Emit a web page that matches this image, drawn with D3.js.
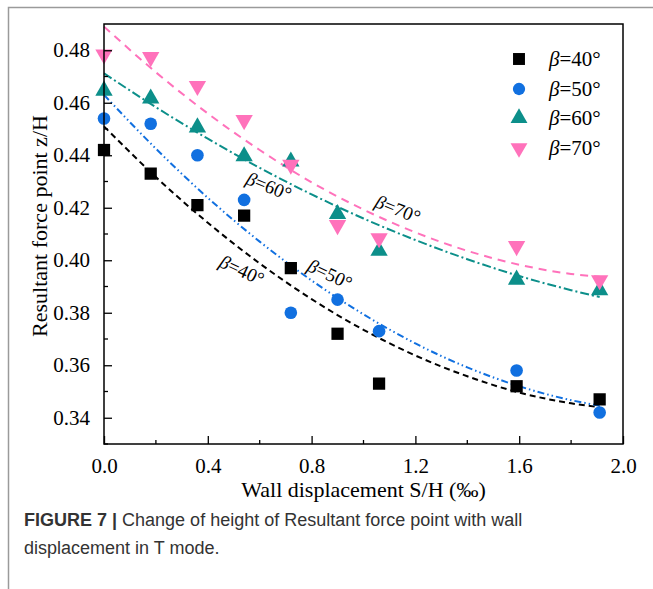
<!DOCTYPE html>
<html><head><meta charset="utf-8">
<script src="https://cdn.jsdelivr.net/npm/d3@7"></script>
<style>body{margin:0;background:#fff}svg{display:block}</style>
</head><body>
<svg id="c" width="653" height="589"></svg>
<script>
// ---- data ----
const xValues = [0, 0.18, 0.36, 0.54, 0.72, 0.90, 1.06, 1.59, 1.91];
const beta40 = [0.442, 0.433, 0.421, 0.417, 0.397, 0.372, 0.353, 0.352, 0.347];
const beta50 = [0.454, 0.452, 0.440, 0.423, 0.380, 0.385, 0.373, 0.358, 0.342];
const beta60 = [0.465, 0.462, 0.451, 0.440, 0.438, 0.418, 0.404, 0.393, 0.389];
const beta70 = [0.478, 0.477, 0.466, 0.453, 0.436, 0.413, 0.408, 0.405, 0.392];
// fitted curves
const fitX = [0, 0.2, 0.4, 0.6, 0.8, 1.0, 1.2, 1.4, 1.6, 1.8, 1.91];
const fit40 = [0.451, 0.4317, 0.4143, 0.3988, 0.3852, 0.3735, 0.3637, 0.3558, 0.3496, 0.3455, 0.3440];
const fit50 = [0.463, 0.4425, 0.4238, 0.4071, 0.3923, 0.3794, 0.3683, 0.3592, 0.3520, 0.3467, 0.3446];
const fit60 = [0.4712, 0.4583, 0.4463, 0.4352, 0.4251, 0.4159, 0.4077, 0.4004, 0.3940, 0.3886, 0.3860];
const fit70 = [0.489, 0.4716, 0.4559, 0.4420, 0.4297, 0.4193, 0.4106, 0.4036, 0.3983, 0.3948, 0.3937];
const seriesNames = ["40°", "50°", "60°", "70°"];
const xTicks = [0.0, 0.4, 0.8, 1.2, 1.6, 2.0];
const yTicks = [0.34, 0.36, 0.38, 0.40, 0.42, 0.44, 0.46, 0.48];

const colors = ["#000000", "#1170e0", "#0c8f8a", "#ff72bb"];
const dashes = ["6,4", "7,3,1.5,3,1.5,3", "9,3,2,3", "8,6"];
const symbols = [d3.symbolSquare, d3.symbolCircle, d3.symbolTriangle, d3.symbolTriangle];
const symSize = [150, 125, 130, 130];
const symRot = [0, 0, 0, 180];

const svg = d3.select("#c");
const serif = "'Liberation Serif','Times New Roman',serif";
const sans = "'Liberation Sans',Arial,sans-serif";

// outer frame
svg.append("path").attr("d", "M8.5,589 V7.5 H653").attr("fill", "none").attr("stroke", "#9a9a9a").attr("stroke-width", 1.5);

const L = 104, R = 623, T = 24, B = 444;
const x = d3.scaleLinear().domain([0, 2.0]).range([L, R]);
const y = d3.scaleLinear().domain([0.33, 0.49]).range([B, T]);

const g = svg.append("g");
// fit lines
const line = d3.line().x((d, i) => x(fitX[i])).y(d => y(d)).curve(d3.curveMonotoneX);
[fit40, fit50, fit60, fit70].forEach((f, k) => {
  g.append("path").attr("d", line(f)).attr("fill", "none")
    .attr("stroke", colors[k]).attr("stroke-width", 2).attr("stroke-dasharray", dashes[k]);
});
// points
[beta40, beta50, beta60, beta70].forEach((s, k) => {
  g.selectAll(null).data(s).enter().append("path")
    .attr("d", d3.symbol().type(symbols[k]).size(symSize[k]))
    .attr("transform", (d, i) => `translate(${x(xValues[i])},${y(d) + (k === 2 ? 1 : k === 3 ? -1 : 0)}) rotate(${symRot[k]})`)
    .attr("fill", colors[k]);
});

// axes frame
svg.append("rect").attr("x", L).attr("y", T).attr("width", R - L).attr("height", B - T)
  .attr("fill", "none").attr("stroke", "#000").attr("stroke-width", 1.5);

// x axis ticks (inward)
const xAxis = d3.axisBottom(x).tickValues(xTicks).tickFormat(d3.format(".1f")).tickSizeInner(-8).tickSizeOuter(0).tickPadding(14);
const gx = svg.append("g").attr("transform", `translate(0,${B})`).call(xAxis);
gx.select(".domain").remove();
gx.selectAll("line").attr("stroke-width", 1.3);
gx.selectAll("text").attr("font-family", serif).attr("font-size", 21).attr("fill", "#000");
const xMinor = [0.2, 0.6, 1.0, 1.4, 1.8];
svg.append("g").selectAll("line").data(xMinor).enter().append("line")
  .attr("x1", d => x(d)).attr("x2", d => x(d)).attr("y1", B).attr("y2", B - 4).attr("stroke", "#000").attr("stroke-width", 1.3);

const yAxis = d3.axisLeft(y).tickValues(yTicks).tickFormat(d3.format(".2f")).tickSizeInner(-8).tickSizeOuter(0).tickPadding(14);
const gy = svg.append("g").attr("transform", `translate(${L},0)`).call(yAxis);
gy.select(".domain").remove();
gy.selectAll("line").attr("stroke-width", 1.3);
gy.selectAll("text").attr("font-family", serif).attr("font-size", 21).attr("fill", "#000");
const yMinor = [0.33, 0.35, 0.37, 0.39, 0.41, 0.43, 0.45, 0.47];
svg.append("g").selectAll("line").data(yMinor).enter().append("line")
  .attr("x1", L).attr("x2", L + 4).attr("y1", d => y(d)).attr("y2", d => y(d)).attr("stroke", "#000").attr("stroke-width", 1.3);

// axis titles
svg.append("text").attr("x", (L + R) / 2).attr("y", 497).attr("text-anchor", "middle")
  .attr("font-family", serif).attr("font-size", 22).text("Wall displacement S/H (‰)");
svg.append("text").attr("transform", `translate(47,${(T + B) / 2 - 8}) rotate(-90)`).attr("text-anchor", "middle")
  .attr("font-family", serif).attr("font-size", 22).text("Resultant force point z/H");

// legend
const legY = [59, 89, 118, 148];
seriesNames.forEach((n, k) => {
  svg.append("path").attr("d", d3.symbol().type(symbols[k]).size(symSize[k] * 0.95))
    .attr("transform", `translate(519,${legY[k]}) rotate(${symRot[k]})`).attr("fill", colors[k]);
  const t = svg.append("text").attr("x", 549).attr("y", legY[k] + 7).attr("font-family", serif).attr("font-size", 21);
  t.append("tspan").attr("font-style", "italic").text("β");
  t.append("tspan").text("=" + n);
});

// curve labels
const labels = [
  {n: "40°", cx: 242, cy: 270, a: 25},
  {n: "50°", cx: 330, cy: 274, a: 25},
  {n: "60°", cx: 269, cy: 186, a: 22},
  {n: "70°", cx: 398, cy: 209, a: 22}
];
labels.forEach(l => {
  const t = svg.append("text").attr("transform", `translate(${l.cx},${l.cy}) rotate(${l.a})`)
    .attr("text-anchor", "middle").attr("dy", "0.35em").attr("font-family", serif).attr("font-size", 19);
  t.append("tspan").attr("font-style", "italic").text("β");
  t.append("tspan").text("=" + l.n);
});

// caption
const cap1 = svg.append("text").attr("x", 24).attr("y", 526).attr("font-family", sans).attr("font-size", 18).attr("fill", "#333");
cap1.append("tspan").attr("font-weight", "bold").text("FIGURE 7 |");
cap1.append("tspan").text(" Change of height of Resultant force point with wall");
svg.append("text").attr("x", 24).attr("y", 554).attr("font-family", sans).attr("font-size", 18).attr("fill", "#333")
  .text("displacement in T mode.");
</script>
</body></html>
